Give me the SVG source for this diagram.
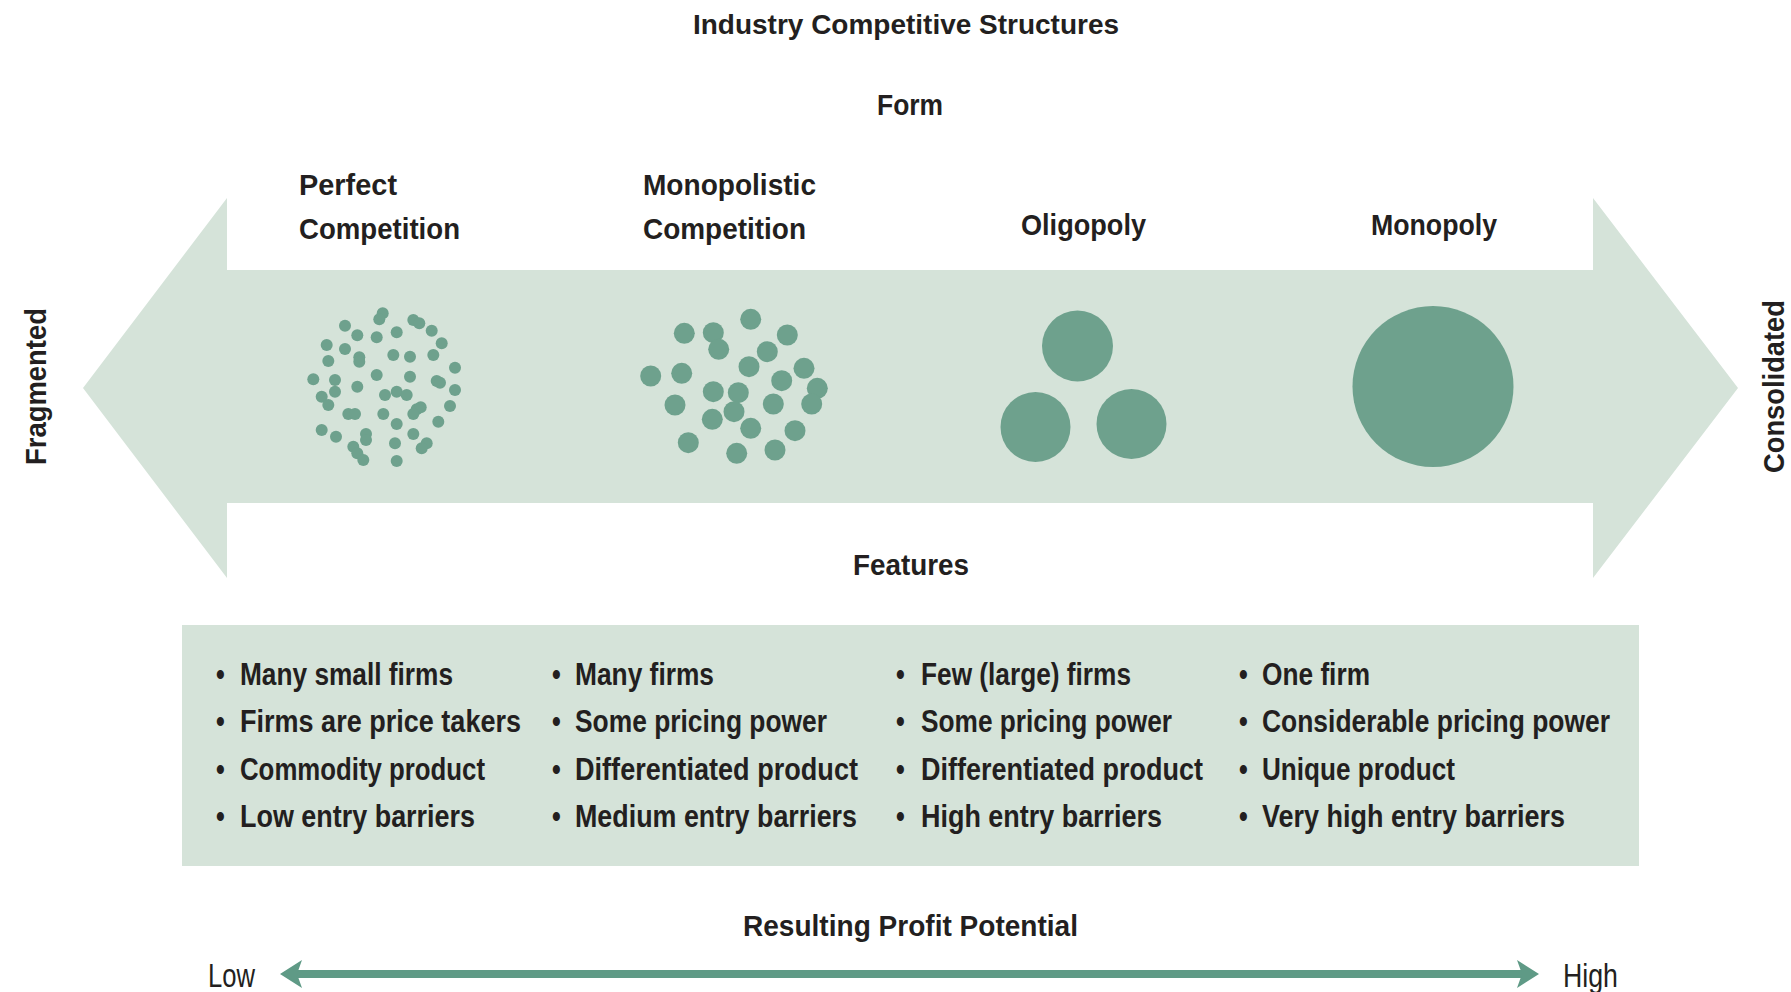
<svg xmlns="http://www.w3.org/2000/svg" width="1791" height="992" viewBox="0 0 1791 992">
<style>
  text { font-family: "Liberation Sans Narrow", "Liberation Sans", Arial, sans-serif; font-weight: bold; fill: #231f20; }
  .h { font-size: 30px; }
  .t { font-size: 27px; }
  .b { font-size: 25px; }
  .lh { font-size: 34px; font-weight: normal; }
  .dot { fill: #6ea18d; }
  .big { fill: #6ea18d; }
  .band { fill: #d5e3d9; }
</style>
<defs>
  <marker id="head" markerUnits="userSpaceOnUse" markerWidth="24" markerHeight="30" refX="5" refY="14" orient="auto-start-reverse">
    <path d="M0,0 L22,14 L0,28 L5,14 Z" fill="#5f9a86"/>
  </marker>
</defs>
<rect width="1791" height="992" fill="#ffffff"/>

<g id="title">
  <text class="t" x="693" y="34" textLength="426" lengthAdjust="spacingAndGlyphs">Industry Competitive Structures</text>
</g>
<g id="form-label">
  <text class="h" x="877" y="115" textLength="66" lengthAdjust="spacingAndGlyphs">Form</text>
</g>

<g id="band-arrow">
  <polygon class="band" points="83,388 227,198 227,270 1593,270 1593,198 1738,388 1593,578 1593,503 227,503 227,578"/>
</g>

<g id="fragmented">
  <text class="h" transform="translate(46,465) rotate(-90)" textLength="157" lengthAdjust="spacingAndGlyphs">Fragmented</text>
</g>
<g id="consolidated">
  <text class="h" transform="translate(1784,473) rotate(-90)" textLength="173" lengthAdjust="spacingAndGlyphs">Consolidated</text>
</g>

<g id="perfect-competition">
  <text class="h" x="299" y="195" textLength="98" lengthAdjust="spacingAndGlyphs">Perfect</text>
  <text class="h" x="299" y="239" textLength="161" lengthAdjust="spacingAndGlyphs">Competition</text>
  <g>
    <circle class="dot" cx="382.7" cy="313.3" r="6"/><circle class="dot" cx="379.3" cy="319.3" r="6"/>
    <circle class="dot" cx="345" cy="325.7" r="6"/>
    <circle class="dot" cx="413.3" cy="320" r="6"/><circle class="dot" cx="419.3" cy="323.3" r="6"/>
    <circle class="dot" cx="431.7" cy="330.7" r="6"/>
    <circle class="dot" cx="357.3" cy="335.3" r="6"/>
    <circle class="dot" cx="376.7" cy="337.3" r="6"/>
    <circle class="dot" cx="396.7" cy="332.3" r="6"/>
    <circle class="dot" cx="441.7" cy="343.3" r="6"/>
    <circle class="dot" cx="326.7" cy="345" r="6"/>
    <circle class="dot" cx="345" cy="349" r="6"/>
    <circle class="dot" cx="359.3" cy="357.3" r="6"/><circle class="dot" cx="359.3" cy="361.7" r="6"/>
    <circle class="dot" cx="393.3" cy="355" r="6"/>
    <circle class="dot" cx="410" cy="356.7" r="6"/>
    <circle class="dot" cx="433.3" cy="355" r="6"/>
    <circle class="dot" cx="328.3" cy="361" r="6"/>
    <circle class="dot" cx="455" cy="367.7" r="6"/>
    <circle class="dot" cx="376.7" cy="375" r="6"/>
    <circle class="dot" cx="410" cy="376.7" r="6"/>
    <circle class="dot" cx="313.3" cy="379.3" r="6"/>
    <circle class="dot" cx="335" cy="380" r="6"/>
    <circle class="dot" cx="436.7" cy="381" r="6"/><circle class="dot" cx="440" cy="382.7" r="6"/>
    <circle class="dot" cx="357.3" cy="386.7" r="6"/>
    <circle class="dot" cx="335" cy="391.7" r="6"/>
    <circle class="dot" cx="321.7" cy="396.7" r="6"/><circle class="dot" cx="328.3" cy="405" r="6"/>
    <circle class="dot" cx="385" cy="395" r="6"/><circle class="dot" cx="396.7" cy="391.7" r="6"/><circle class="dot" cx="406.7" cy="395" r="6"/>
    <circle class="dot" cx="455" cy="390" r="6"/>
    <circle class="dot" cx="450" cy="406" r="6"/>
    <circle class="dot" cx="348.3" cy="414" r="6"/><circle class="dot" cx="355" cy="414" r="6"/>
    <circle class="dot" cx="383.3" cy="414" r="6"/>
    <circle class="dot" cx="416.7" cy="409.3" r="6"/><circle class="dot" cx="420.7" cy="407.3" r="6"/><circle class="dot" cx="413.3" cy="414" r="6"/>
    <circle class="dot" cx="396.7" cy="424" r="6"/>
    <circle class="dot" cx="438.3" cy="421.7" r="6"/>
    <circle class="dot" cx="321.7" cy="430" r="6"/>
    <circle class="dot" cx="336" cy="436.7" r="6"/>
    <circle class="dot" cx="366" cy="434" r="6"/><circle class="dot" cx="366" cy="440" r="6"/>
    <circle class="dot" cx="413.3" cy="434" r="6"/>
    <circle class="dot" cx="395" cy="443.3" r="6"/>
    <circle class="dot" cx="353.3" cy="446.7" r="6"/><circle class="dot" cx="357.3" cy="453.3" r="6"/><circle class="dot" cx="363.3" cy="460" r="6"/>
    <circle class="dot" cx="426.7" cy="443.3" r="6"/><circle class="dot" cx="421.7" cy="448.3" r="6"/>
    <circle class="dot" cx="396.7" cy="461" r="6"/>
  </g>
</g>

<g id="monopolistic-competition">
  <text class="h" x="643" y="195" textLength="173" lengthAdjust="spacingAndGlyphs">Monopolistic</text>
  <text class="h" x="643" y="239" textLength="163" lengthAdjust="spacingAndGlyphs">Competition</text>
  <g>
    <circle class="dot" cx="750.7" cy="319.3" r="10.5"/>
    <circle class="dot" cx="684.3" cy="333.3" r="10.5"/>
    <circle class="dot" cx="713.3" cy="332.7" r="10.5"/><circle class="dot" cx="718.7" cy="349.3" r="10.5"/>
    <circle class="dot" cx="787.3" cy="335" r="10.5"/>
    <circle class="dot" cx="767.3" cy="351.7" r="10.5"/>
    <circle class="dot" cx="749" cy="366.7" r="10.5"/>
    <circle class="dot" cx="650.7" cy="376" r="10.5"/>
    <circle class="dot" cx="681.7" cy="373.3" r="10.5"/>
    <circle class="dot" cx="804" cy="368.3" r="10.5"/>
    <circle class="dot" cx="781.7" cy="380.7" r="10.5"/>
    <circle class="dot" cx="713.3" cy="391.7" r="10.5"/>
    <circle class="dot" cx="738.3" cy="392.7" r="10.5"/><circle class="dot" cx="734" cy="411.7" r="10.5"/>
    <circle class="dot" cx="817.3" cy="388.3" r="10.5"/><circle class="dot" cx="811.7" cy="404" r="10.5"/>
    <circle class="dot" cx="675" cy="405" r="10.5"/>
    <circle class="dot" cx="773.3" cy="404" r="10.5"/>
    <circle class="dot" cx="712.3" cy="419.3" r="10.5"/>
    <circle class="dot" cx="750.7" cy="428.3" r="10.5"/>
    <circle class="dot" cx="795" cy="430.7" r="10.5"/>
    <circle class="dot" cx="688.3" cy="442.7" r="10.5"/>
    <circle class="dot" cx="736.7" cy="453.3" r="10.5"/>
    <circle class="dot" cx="775" cy="450" r="10.5"/>
  </g>
</g>

<g id="oligopoly">
  <text class="h" x="1021" y="235" textLength="125" lengthAdjust="spacingAndGlyphs">Oligopoly</text>
  <circle class="big" cx="1077.5" cy="346" r="35.5"/>
  <circle class="big" cx="1035.5" cy="427" r="35"/>
  <circle class="big" cx="1131.5" cy="424" r="35"/>
</g>

<g id="monopoly">
  <text class="h" x="1371" y="235" textLength="126" lengthAdjust="spacingAndGlyphs">Monopoly</text>
  <circle class="big" cx="1433" cy="386.5" r="80.5"/>
</g>

<g id="features-label">
  <text class="h" x="853" y="575" textLength="116" lengthAdjust="spacingAndGlyphs">Features</text>
</g>

<g id="features-box">
  <rect class="band" x="182" y="625" width="1457" height="241"/>
  <g>
    <text class="b" transform="translate(216,685) scale(1,1.24)">•</text>
    <text class="b" transform="translate(240,685) scale(1,1.24)" textLength="213" lengthAdjust="spacingAndGlyphs">Many small firms</text>
    <text class="b" transform="translate(216,732) scale(1,1.24)">•</text>
    <text class="b" transform="translate(240,732) scale(1,1.24)" textLength="281" lengthAdjust="spacingAndGlyphs">Firms are price takers</text>
    <text class="b" transform="translate(216,780) scale(1,1.24)">•</text>
    <text class="b" transform="translate(240,780) scale(1,1.24)" textLength="245" lengthAdjust="spacingAndGlyphs">Commodity product</text>
    <text class="b" transform="translate(216,827) scale(1,1.24)">•</text>
    <text class="b" transform="translate(240,827) scale(1,1.24)" textLength="235" lengthAdjust="spacingAndGlyphs">Low entry barriers</text>

    <text class="b" transform="translate(552,685) scale(1,1.24)">•</text>
    <text class="b" transform="translate(575,685) scale(1,1.24)" textLength="139" lengthAdjust="spacingAndGlyphs">Many firms</text>
    <text class="b" transform="translate(552,732) scale(1,1.24)">•</text>
    <text class="b" transform="translate(575,732) scale(1,1.24)" textLength="252" lengthAdjust="spacingAndGlyphs">Some pricing power</text>
    <text class="b" transform="translate(552,780) scale(1,1.24)">•</text>
    <text class="b" transform="translate(575,780) scale(1,1.24)" textLength="283" lengthAdjust="spacingAndGlyphs">Differentiated product</text>
    <text class="b" transform="translate(552,827) scale(1,1.24)">•</text>
    <text class="b" transform="translate(575,827) scale(1,1.24)" textLength="282" lengthAdjust="spacingAndGlyphs">Medium entry barriers</text>

    <text class="b" transform="translate(896,685) scale(1,1.24)">•</text>
    <text class="b" transform="translate(921,685) scale(1,1.24)" textLength="210" lengthAdjust="spacingAndGlyphs">Few (large) firms</text>
    <text class="b" transform="translate(896,732) scale(1,1.24)">•</text>
    <text class="b" transform="translate(921,732) scale(1,1.24)" textLength="251" lengthAdjust="spacingAndGlyphs">Some pricing power</text>
    <text class="b" transform="translate(896,780) scale(1,1.24)">•</text>
    <text class="b" transform="translate(921,780) scale(1,1.24)" textLength="282" lengthAdjust="spacingAndGlyphs">Differentiated product</text>
    <text class="b" transform="translate(896,827) scale(1,1.24)">•</text>
    <text class="b" transform="translate(921,827) scale(1,1.24)" textLength="241" lengthAdjust="spacingAndGlyphs">High entry barriers</text>

    <text class="b" transform="translate(1239,685) scale(1,1.24)">•</text>
    <text class="b" transform="translate(1262,685) scale(1,1.24)" textLength="108" lengthAdjust="spacingAndGlyphs">One firm</text>
    <text class="b" transform="translate(1239,732) scale(1,1.24)">•</text>
    <text class="b" transform="translate(1262,732) scale(1,1.24)" textLength="348" lengthAdjust="spacingAndGlyphs">Considerable pricing power</text>
    <text class="b" transform="translate(1239,780) scale(1,1.24)">•</text>
    <text class="b" transform="translate(1262,780) scale(1,1.24)" textLength="193" lengthAdjust="spacingAndGlyphs">Unique product</text>
    <text class="b" transform="translate(1239,827) scale(1,1.24)">•</text>
    <text class="b" transform="translate(1262,827) scale(1,1.24)" textLength="303" lengthAdjust="spacingAndGlyphs">Very high entry barriers</text>
  </g>
</g>

<g id="profit-label">
  <text class="h" x="743" y="936" textLength="335" lengthAdjust="spacingAndGlyphs">Resulting Profit Potential</text>
</g>
<g id="low-label">
  <text class="lh" x="208" y="987" textLength="47" lengthAdjust="spacingAndGlyphs">Low</text>
</g>
<g id="high-label">
  <text class="lh" x="1563" y="987" textLength="55" lengthAdjust="spacingAndGlyphs">High</text>
</g>

<g id="connectors">
  <line x1="297" y1="974" x2="1522" y2="974" stroke="#5f9a86" stroke-width="8" marker-start="url(#head)" marker-end="url(#head)"/>
</g>
</svg>
